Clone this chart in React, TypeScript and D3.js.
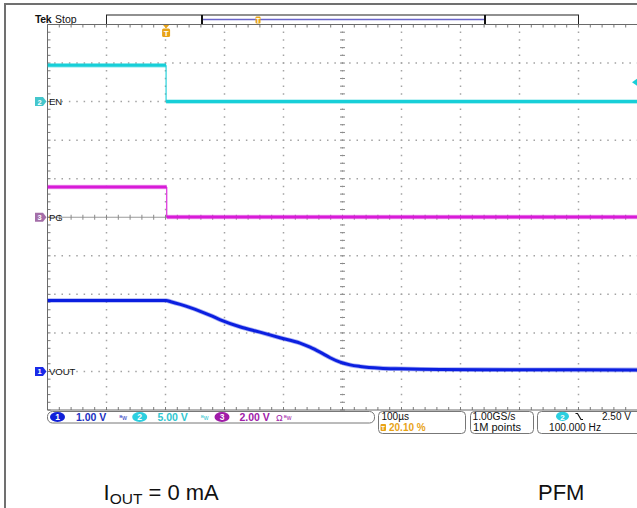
import React from 'react';
import * as d3 from 'd3';

// ---------- acquisition settings read from the display ----------
const TIME_PER_DIV_US = 100;
const TRIGGER_POS_PCT = 20.1;
const H_DIVS = 10;
const V_DIVS = 10;
const TRIGGER_LEVEL_V = 2.5;

const CH_NUMBERS = [1, 2, 3];
const CH_NAMES = ['VOUT', 'EN', 'PG'];
const CH_VOLTS_PER_DIV = [1.0, 5.0, 2.0];
const CH_REF_DIV = [9, 2, 5];
const CH_SCALE_LABELS = ['1.00 V', '5.00 V', '2.00 V'];

// ---------- traces (time in µs, value in V) ----------
const EN_TIME = [-201, 0, 0, 799];
const EN_VOLTS = [4.7, 4.7, 0.0, 0.0];

const PG_TIME = [-201, 1, 1, 799];
const PG_VOLTS = [1.57, 1.57, 0.01, 0.01];

const VOUT_TIME = [-201, -100, 0, 8, 24, 41, 58, 75, 92, 125, 159, 193, 227, 244, 261, 278, 295, 312, 329, 363, 397, 464, 600, 799];
const VOUT_VOLTS = [1.84, 1.84, 1.84, 1.81, 1.74, 1.655, 1.56, 1.455, 1.34, 1.16, 1.02, 0.875, 0.735, 0.63, 0.5, 0.356, 0.24, 0.17, 0.13, 0.086, 0.07, 0.052, 0.045, 0.04];

// ---------- readouts ----------
const TIMEBASE_LABEL = '100µs';
const TRIG_POS_LABEL = '20.10 %';
const SAMPLE_RATE_LABEL = '1.00GS/s';
const RECORD_LABEL = '1M points';
const TRIG_LEVEL_LABEL = '2.50 V';
const TRIG_FREQ_LABEL = '100.000 Hz';
const COND_LABEL = '= 0 mA';
const MODE_LABEL = 'PFM';

// ---------- layout / style ----------
const W = 637, H = 508;
const GX0 = 47.5, GY0 = 24.5, DIV_W = 59, DIV_H = 38.55;
const FONT = 'Liberation Sans, Arial, sans-serif';
const TRACE_COLORS = ['#0b1fe0', '#17cfd8', '#d81bd8'];
const MARKER_COLORS = ['#1a2ae8', '#45c6cc', '#a46ea8'];
const BADGE_COLORS = ['#1020d8', '#2ccfe0', '#a01ca8'];
const TEXT_COLORS = ['#2030c0', '#30c6d0', '#a020a8'];
const ORANGE = '#e8a317';
const GRID_DOT = '#a3a3a3';
const GRID_EDGE = '#6a6a6a';

type Run = { pts: [number, number][]; edge: boolean };
function splitRuns(ts: number[], vs: number[]): Run[] {
  const runs: Run[] = [];
  let cur: [number, number][] = [[ts[0], vs[0]]];
  for (let i = 1; i < ts.length; i++) {
    if (ts[i] === ts[i - 1]) {
      runs.push({ pts: cur, edge: false });
      runs.push({ pts: [[ts[i - 1], vs[i - 1]], [ts[i], vs[i]]], edge: true });
      cur = [[ts[i], vs[i]]];
    } else cur.push([ts[i], vs[i]]);
  }
  runs.push({ pts: cur, edge: false });
  return runs;
}

export default function App() {
  const tSpan = H_DIVS * TIME_PER_DIV_US;
  const t0 = -(TRIGGER_POS_PCT / 100) * tSpan;
  const x = d3.scaleLinear().domain([t0, t0 + tSpan]).range([GX0, GX0 + H_DIVS * DIV_W]);
  const yDiv = d3.scaleLinear().domain([0, V_DIVS]).range([GY0, GY0 + V_DIVS * DIV_H]);
  const yCh = CH_NUMBERS.map((_, i) =>
    d3.scaleLinear().domain([0, CH_VOLTS_PER_DIV[i]]).range([yDiv(CH_REF_DIV[i]), yDiv(CH_REF_DIV[i] - 1)])
  );

  const gx = d3.range(H_DIVS + 1).map((i) => x(t0 + i * TIME_PER_DIV_US));
  const gy = d3.range(V_DIVS + 1).map((j) => yDiv(j));
  const xL = gx[0], xR = gx[H_DIVS], yT = gy[0], yB = gy[V_DIVS];
  const xC = gx[H_DIVS / 2], yC = gy[V_DIVS / 2];

  const minorX = d3.range(H_DIVS * 5 + 1).map((k) => xL + (k * DIV_W) / 5);
  const minorY = d3.range(V_DIVS * 5 + 1).map((k) => yT + (k * DIV_H) / 5);

  const traces = [
    { ch: 0, ts: VOUT_TIME, vs: VOUT_VOLTS, curve: d3.curveMonotoneX },
    { ch: 1, ts: EN_TIME, vs: EN_VOLTS, curve: d3.curveLinear },
    { ch: 2, ts: PG_TIME, vs: PG_VOLTS, curve: d3.curveLinear },
  ];

  const dotH = `1.5 ${DIV_W / 8 - 1.5}`;
  const dotV = `1.5 ${DIV_H / 5 - 1.5}`;

  const trigX = x(0);
  const trigY = yCh[1](TRIGGER_LEVEL_V);

  return (
    <svg width={W} height={H} style={{ position: 'absolute', left: 0, top: 0, background: '#fff' }} fontFamily={FONT}>
      <defs>
        <clipPath id="scr">
          <rect x={xL} y={yT} width={xR - xL} height={yB - yT} />
        </clipPath>
      </defs>
      <rect x={0} y={0} width={W} height={H} fill="#fff" />
      {/* outer frame */}
      <line x1={4} x2={W} y1={4} y2={4} stroke="#707070" strokeWidth={2} />
      <line x1={5} x2={5} y1={3} y2={H} stroke="#707070" strokeWidth={2} />

      {/* Tek Stop */}
      <text x={35} y={22.5} fontSize={10.5} fontWeight="bold" fill="#111" letterSpacing={-0.3}>Tek</text>
      <text x={55} y={22.5} fontSize={10.5} fill="#111">Stop</text>

      {/* record view bar */}
      <rect x={gx[1]} y={15} width={gx[9] - gx[1]} height={yT - 15} fill="#fff" stroke="#222" strokeWidth={1} />
      <line x1={202} x2={485} y1={19.5} y2={19.5} stroke="#6a64c8" strokeWidth={1.3} />
      <line x1={202} x2={202} y1={15} y2={yT} stroke="#111" strokeWidth={2} />
      <line x1={485} x2={485} y1={15} y2={yT} stroke="#111" strokeWidth={2} />
      <rect x={255.5} y={16.5} width={5} height={7} fill={ORANGE} rx={1} />
      <text x={258} y={22.6} fontSize={6.5} fontWeight="bold" fill="#fff" textAnchor="middle">T</text>

      {/* graticule dotted lines */}
      <g>
        {gy.slice(1, V_DIVS).map((yy, j) =>
          j + 1 === V_DIVS / 2 ? null : (
            <line key={'h' + j} x1={xL} x2={xR} y1={yy} y2={yy} stroke={GRID_DOT} strokeWidth={1.5} strokeDasharray={dotH} strokeDashoffset={0.75} />
          )
        )}
        {gx.slice(1, H_DIVS).map((xx, i) =>
          i + 1 === H_DIVS / 2 ? null : (
            <line key={'v' + i} x1={xx} x2={xx} y1={yT} y2={yB} stroke={GRID_DOT} strokeWidth={1.5} strokeDasharray={dotV} strokeDashoffset={0.75} />
          )
        )}
        {/* center crosshair */}
        <line x1={xL} x2={xR} y1={yC} y2={yC} stroke="#9a9a9a" strokeWidth={1} />
        <line x1={xC} x2={xC} y1={yT} y2={yB} stroke="#a0a0a0" strokeWidth={1.2} strokeDasharray={dotV} strokeDashoffset={0.75} />
        {minorX.map((mx, k) => (
          <line key={'cx' + k} x1={mx} x2={mx} y1={yC - 2.5} y2={yC + 2.5} stroke="#8a8a8a" strokeWidth={1} />
        ))}
        {minorY.map((my, k) => (
          <line key={'cy' + k} x1={xC - 2.5} x2={xC + 2.5} y1={my} y2={my} stroke="#8a8a8a" strokeWidth={1} />
        ))}
        {/* edge ticks */}
        {minorX.map((mx, k) => (
          <g key={'ex' + k}>
            <line x1={mx} x2={mx} y1={yT} y2={yT + 3} stroke="#7a7a7a" strokeWidth={1} />
            <line x1={mx} x2={mx} y1={yB} y2={yB - 3} stroke="#7a7a7a" strokeWidth={1} />
          </g>
        ))}
        {minorY.map((my, k) => (
          <line key={'ey' + k} x1={xL} x2={xL + 3} y1={my} y2={my} stroke="#7a7a7a" strokeWidth={1} />
        ))}
        <line x1={xL} x2={xR} y1={yT} y2={yT} stroke={GRID_EDGE} strokeWidth={1} />
        <line x1={xL} x2={xR} y1={yB} y2={yB} stroke={GRID_EDGE} strokeWidth={1} />
        <line x1={xL} x2={xL} y1={yT} y2={yB} stroke={GRID_EDGE} strokeWidth={1} />
      </g>

      {/* traces */}
      <g clipPath="url(#scr)">
        {traces.map((tr) =>
          splitRuns(tr.ts, tr.vs).map((run, r) => {
            const line = d3
              .line<[number, number]>()
              .x((d) => x(d[0]))
              .y((d) => yCh[tr.ch](d[1]))
              .curve(run.edge ? d3.curveLinear : tr.curve);
            const dStr = line(run.pts) || '';
            return run.edge ? (
              <path key={tr.ch + '-' + r} d={dStr} fill="none" stroke={TRACE_COLORS[tr.ch]} strokeWidth={1.4} opacity={0.8} />
            ) : (
              <g key={tr.ch + '-' + r}>
                <path d={dStr} fill="none" stroke={TRACE_COLORS[tr.ch]} strokeWidth={4.6} opacity={0.35} />
                <path d={dStr} fill="none" stroke={TRACE_COLORS[tr.ch]} strokeWidth={3} />
              </g>
            );
          })
        )}
      </g>

      {/* trigger position marker */}
      <path d={`M${trigX - 3},${yT + 0.5} L${trigX + 3},${yT + 0.5} L${trigX},${yT + 4} Z`} fill={ORANGE} />
      <rect x={trigX - 4} y={yT + 4} width={8} height={8.5} rx={1.5} fill={ORANGE} />
      <text x={trigX} y={yT + 11.3} fontSize={8} fontWeight="bold" fill="#fff" textAnchor="middle">T</text>

      {/* trigger level marker */}
      <path d={`M${W - 5},${trigY} L${W},${trigY - 3.5} L${W},${trigY + 3.5} Z`} fill={TRACE_COLORS[1]} />

      {/* channel ground markers & labels */}
      {CH_NUMBERS.map((n, i) => {
        const ry = yCh[i](0);
        return (
          <g key={'m' + n}>
            <path d={`M35,${ry - 4.5} h8 l3.5,4.5 l-3.5,4.5 h-8 Z`} fill={MARKER_COLORS[i]} />
            <text x={39.5} y={ry + 3} fontSize={7.5} fontWeight="bold" fill="#fff" textAnchor="middle">{n}</text>
            <text x={49} y={ry + 3.5} fontSize={9.5} fill="#111">{CH_NAMES[i]}</text>
          </g>
        );
      })}

      {/* status bar: channel settings */}
      <rect x={47.5} y={411.5} width={327} height={11.5} rx={5} fill="#fff" stroke="#777" strokeWidth={1} />
      {CH_NUMBERS.map((n, i) => {
        const bx = [57.5, 139.7, 222][i];
        const tx = [76, 157.5, 239.5][i];
        return (
          <g key={'s' + n}>
            <ellipse cx={bx} cy={417} rx={7.5} ry={5} fill={BADGE_COLORS[i]} />
            <text x={bx} y={420.3} fontSize={8.5} fontWeight="bold" fill="#fff" textAnchor="middle">{n}</text>
            <text x={tx} y={420.8} fontSize={10.5} fontWeight="bold" fill={TEXT_COLORS[i]}>{CH_SCALE_LABELS[i]}</text>
          </g>
        );
      })}
      <text x={119.5} y={420} fontSize={6.5} fill={TEXT_COLORS[0]}>ᴮw</text>
      <text x={201} y={420} fontSize={6.5} fill={TEXT_COLORS[1]}>ᴮw</text>
      <text x={276} y={420.5} fontSize={9} fill={TEXT_COLORS[2]}>Ω</text>
      <text x={284} y={420} fontSize={6.5} fill={TEXT_COLORS[2]}>ᴮw</text>

      {/* timebase box */}
      <rect x={378.5} y={411.5} width={87} height={22} rx={4} fill="#fff" stroke="#777" strokeWidth={1} />
      <text x={381.5} y={420.2} fontSize={10} fill="#111">{TIMEBASE_LABEL}</text>
      <rect x={380.5} y={424} width={5.5} height={7} rx={1} fill={ORANGE} />
      <text x={383.2} y={430.2} fontSize={6} fontWeight="bold" fill="#fff" textAnchor="middle">T</text>
      <text x={389} y={431.2} fontSize={10} fontWeight="bold" fill={ORANGE}>{TRIG_POS_LABEL}</text>

      {/* acquisition box */}
      <rect x={470.5} y={411.5} width={63} height={22} rx={4} fill="#fff" stroke="#777" strokeWidth={1} />
      <text x={472.5} y={420.2} fontSize={10} fill="#111" textLength={43} lengthAdjust="spacingAndGlyphs">{SAMPLE_RATE_LABEL}</text>
      <text x={473} y={431.2} fontSize={10} fill="#111" textLength={48} lengthAdjust="spacingAndGlyphs">{RECORD_LABEL}</text>

      {/* trigger box */}
      <rect x={537.5} y={411.5} width={110} height={22} rx={4} fill="#fff" stroke="#777" strokeWidth={1} />
      <ellipse cx={562.5} cy={416.3} rx={6.5} ry={4.6} fill={BADGE_COLORS[1]} />
      <text x={562.5} y={419.5} fontSize={8} fontWeight="bold" fill="#fff" textAnchor="middle">2</text>
      <path d="M575.5,413.5 h2 l3.5,6 h2" fill="none" stroke="#111" strokeWidth={1.2} />
      <text x={602} y={420.2} fontSize={10} fill="#111">{TRIG_LEVEL_LABEL}</text>
      <text x={549} y={431.2} fontSize={10} fill="#111" textLength={52} lengthAdjust="spacingAndGlyphs">{TRIG_FREQ_LABEL}</text>

      {/* caption */}
      <text x={103.5} y={500} fontSize={22} fill="#111">
        I<tspan fontSize={15.5} dy={4}>OUT</tspan>
        <tspan dy={-4}>{' ' + COND_LABEL}</tspan>
      </text>
      <text x={538} y={500} fontSize={22} fill="#111">{MODE_LABEL}</text>
    </svg>
  );
}
